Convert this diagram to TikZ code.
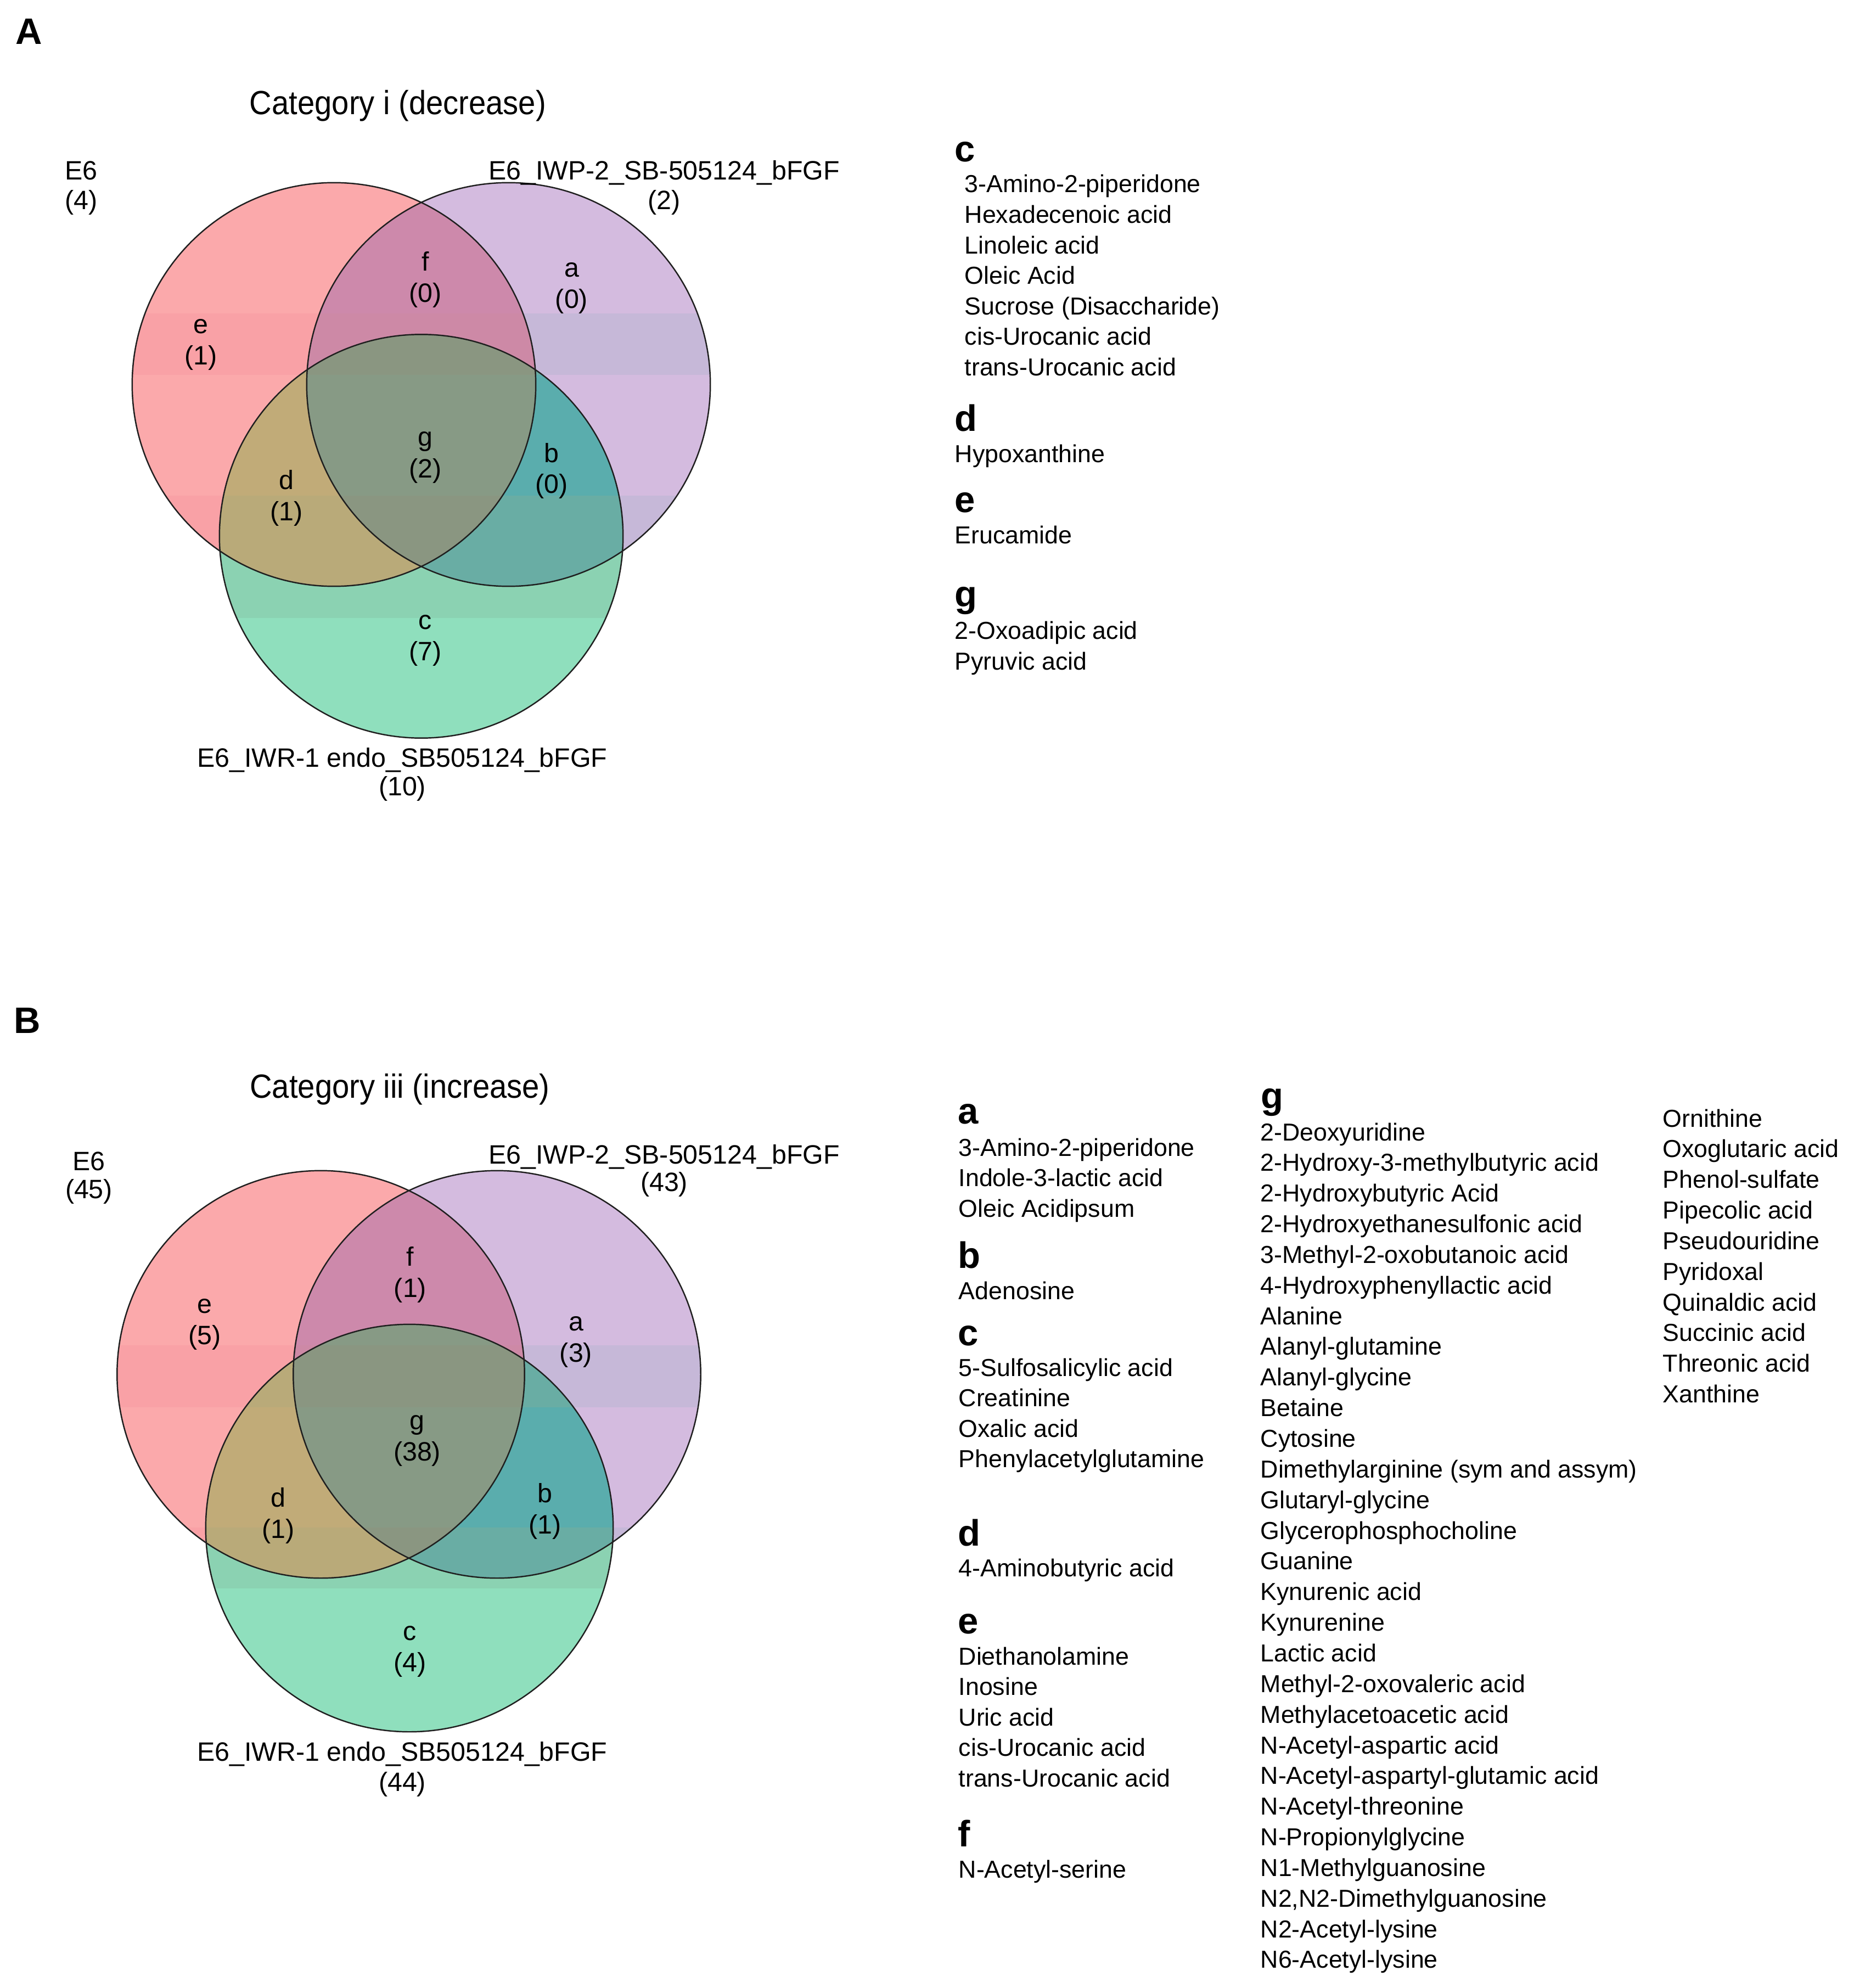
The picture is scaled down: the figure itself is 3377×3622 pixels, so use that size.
\documentclass[tikz,border=0pt]{standalone}
\usepackage{fontspec}
\setmainfont{Liberation Sans}
\definecolor{cR}{HTML}{FBA9AB}
\definecolor{cP}{HTML}{D4BBDF}
\definecolor{cG}{HTML}{8FDFBD}
\definecolor{cRP}{HTML}{CD89AB}
\definecolor{cRG}{HTML}{C1AB78}
\definecolor{cPG}{HTML}{5AADAD}
\definecolor{cRPG}{HTML}{879A85}
\definecolor{bR}{HTML}{F9A1A6}
\definecolor{bP}{HTML}{C6B8D8}
\definecolor{bG}{HTML}{8BD2B2}
\definecolor{bRP}{HTML}{CD89A6}
\definecolor{bRG}{HTML}{B9AA79}
\definecolor{bPG}{HTML}{69ADA4}
\definecolor{bRPG}{HTML}{8A9681}
\tikzset{
  vlab/.style={font=\fontsize{13.75}{16}\selectfont, inner sep=0pt, anchor=base},
  lst/.style={font=\fontsize{12.72}{15}\selectfont, inner sep=0pt, anchor=base west},
  hdr/.style={font=\bfseries\fontsize{19.06}{22}\selectfont, inner sep=0pt, anchor=base west},
  ttl/.style={font=\fontsize{17.36}{20}\selectfont, inner sep=0pt, anchor=base},
  vline/.style={draw=black!88, line width=0.7pt}
}
\newcommand\vennfill[4]{%
  \fill[cR] #1 circle[radius=#4];
  \fill[cP] #2 circle[radius=#4];
  \fill[cG] #3 circle[radius=#4];
  \begin{scope}\clip #1 circle[radius=#4];
    \fill[cRP] #2 circle[radius=#4];
    \fill[cRG] #3 circle[radius=#4];
  \end{scope}
  \begin{scope}\clip #2 circle[radius=#4];
    \fill[cPG] #3 circle[radius=#4];
  \end{scope}
  \begin{scope}\clip #1 circle[radius=#4]; \clip #2 circle[radius=#4];
    \fill[cRPG] #3 circle[radius=#4];
  \end{scope}
}
\newcommand\bandcolours{%
  \colorlet{cR}{bR}\colorlet{cP}{bP}\colorlet{cG}{bG}%
  \colorlet{cRP}{bRP}\colorlet{cRG}{bRG}\colorlet{cPG}{bPG}\colorlet{cRPG}{bRPG}%
}
% #1-#4 circles and radius, #5 #6 band 1 (top, bottom), #7 #8 band 2
\newcommand\myvenn[8]{%
  \vennfill{#1}{#2}{#3}{#4}
  \begin{scope}\bandcolours
    \clip (0,#5) rectangle (1500,#6);
    \vennfill{#1}{#2}{#3}{#4}
  \end{scope}
  \begin{scope}\bandcolours
    \clip (0,#7) rectangle (1500,#8);
    \vennfill{#1}{#2}{#3}{#4}
  \end{scope}
  \draw[vline] #1 circle[radius=#4];
  \draw[vline] #2 circle[radius=#4];
  \draw[vline] #3 circle[radius=#4];
}
% region label: name, x, baseline of count line, letter, count
\newcommand\rlab[5]{%
  \node[vlab] (#1) at ({#2},{#3-57}) {#4};
  \node[vlab] (#1n) at ({#2},{#3}) {(#5)};
}
\begin{document}
\begin{tikzpicture}[x=0.01cm,y=-0.01cm]
\useasboundingbox (0,0) rectangle (3377,3622);
\fill[white] (0,0) rectangle (3377,3622);

% ---------------- Panel A ----------------
\node[hdr] (pA) at (28,81) {A};
\node[ttl] (tA) at (725,209) {\scalebox{0.92}[1]{Category i (decrease)}};
\myvenn{(608.5,700.5)}{(926.5,700.5)}{(767.5,977)}{3.675cm}{572}{683}{903}{1125}
\node[vlab] (sA1) at (148,328) {E6};
\node[vlab] (sA1n) at (148,382) {(4)};
\node[vlab] (sA2) at (1210,328) {E6\_IWP-2\_SB-505124\_bFGF};
\node[vlab] (sA2n) at (1210,382) {(2)};
\node[vlab] (sA3) at (733,1397) {E6\_IWR-1 endo\_SB505124\_bFGF};
\node[vlab] (sA3n) at (733,1449) {(10)};
\rlab{Af}{775}{551}{f}{0}
\rlab{Aa}{1041.5}{562}{a}{0}
\rlab{Ae}{366}{665}{e}{1}
\rlab{Ag}{775}{870}{g}{2}
\rlab{Ab}{1005}{899}{b}{0}
\rlab{Ad}{522}{948}{d}{1}
\rlab{Ac}{775}{1203}{c}{7}

% list A
\node[hdr] (LAc) at (1739,295) {c};
\foreach [count=\i] \t in {3-Amino-2-piperidone, Hexadecenoic acid, Linoleic acid, Oleic Acid, Sucrose (Disaccharide), cis-Urocanic acid, trans-Urocanic acid}
  \node[lst] (LAc\i) at (1757,{351+(\i-1)*55.6}) {\t};
\node[hdr] (LAd) at (1739,786) {d};
\node[lst] (LAd1) at (1739,842) {Hypoxanthine};
\node[hdr] (LAe) at (1739,933) {e};
\node[lst] (LAe1) at (1739,990.6) {Erucamide};
\node[hdr] (LAg) at (1739,1105.5) {g};
\node[lst] (LAg1) at (1739,1164.6) {2-Oxoadipic acid};
\node[lst] (LAg2) at (1739,1220.2) {Pyruvic acid};

% ---------------- Panel B ----------------
\node[hdr] (pB) at (25,1882) {B};
\node[ttl] (tB) at (728.5,2000) {\scalebox{0.92}[1]{Category iii (increase)}};
\myvenn{(584.5,2504)}{(905.5,2504)}{(746,2784)}{3.71cm}{2451}{2563}{2783}{2893}
\node[vlab] (sB1) at (162,2132) {E6};
\node[vlab] (sB1n) at (162,2183) {(45)};
\node[vlab] (sB2) at (1210,2120) {E6\_IWP-2\_SB-505124\_bFGF};
\node[vlab] (sB2n) at (1210,2170) {(43)};
\node[vlab] (sB3) at (733,3208) {E6\_IWR-1 endo\_SB505124\_bFGF};
\node[vlab] (sB3n) at (733,3263) {(44)};
\rlab{Bf}{747.5}{2363}{f}{1}
\rlab{Be}{373}{2449}{e}{5}
\rlab{Ba}{1049.5}{2481}{a}{3}
\rlab{Bg}{760}{2661}{g}{38}
\rlab{Bd}{507}{2802}{d}{1}
\rlab{Bb}{993}{2794}{b}{1}
\rlab{Bc}{747}{3045}{c}{4}

% list B, column 1
\node[hdr] (LBa) at (1745,2047) {a};
\foreach [count=\i] \t in {3-Amino-2-piperidone, Indole-3-lactic acid, Oleic Acidipsum}
  \node[lst] (LBa\i) at (1746,{2106+(\i-1)*55.6}) {\t};
\node[hdr] (LBb) at (1745,2310) {b};
\node[lst] (LBb1) at (1746,2367) {Adenosine};
\node[hdr] (LBc) at (1745,2451) {c};
\foreach [count=\i] \t in {5-Sulfosalicylic acid, Creatinine, Oxalic acid, Phenylacetylglutamine}
  \node[lst] (LBc\i) at (1746,{2507+(\i-1)*55.6}) {\t};
\node[hdr] (LBd) at (1745,2816) {d};
\node[lst] (LBd1) at (1746,2872) {4-Aminobutyric acid};
\node[hdr] (LBe) at (1745,2976) {e};
\foreach [count=\i] \t in {Diethanolamine, Inosine, Uric acid, cis-Urocanic acid, trans-Urocanic acid}
  \node[lst] (LBe\i) at (1746,{3033+(\i-1)*55.6}) {\t};
\node[hdr] (LBf) at (1745,3364) {f};
\node[lst] (LBf1) at (1746,3421) {N-Acetyl-serine};

% list B, column 2
\node[hdr] (LBg) at (2297,2019) {g};
\foreach [count=\i] \t in {2-Deoxyuridine, 2-Hydroxy-3-methylbutyric acid, 2-Hydroxybutyric Acid, 2-Hydroxyethanesulfonic acid, 3-Methyl-2-oxobutanoic acid, 4-Hydroxyphenyllactic acid, Alanine, Alanyl-glutamine, Alanyl-glycine, Betaine, Cytosine, Dimethylarginine (sym and assym), Glutaryl-glycine, Glycerophosphocholine, Guanine, Kynurenic acid, Kynurenine, Lactic acid, Methyl-2-oxovaleric acid, Methylacetoacetic acid, N-Acetyl-aspartic acid, N-Acetyl-aspartyl-glutamic acid, N-Acetyl-threonine, N-Propionylglycine, N1-Methylguanosine, {N2,N2-Dimethylguanosine}, N2-Acetyl-lysine, N6-Acetyl-lysine}
  \node[lst] (LBg\i) at (2296,{2078+(\i-1)*55.85}) {\t};

% list B, column 3
\foreach [count=\i] \t in {Ornithine, Oxoglutaric acid, Phenol-sulfate, Pipecolic acid, Pseudouridine, Pyridoxal, Quinaldic acid, Succinic acid, Threonic acid, Xanthine}
  \node[lst] (LBh\i) at (3029,{2053+(\i-1)*55.85}) {\t};
\end{tikzpicture}
\end{document}
